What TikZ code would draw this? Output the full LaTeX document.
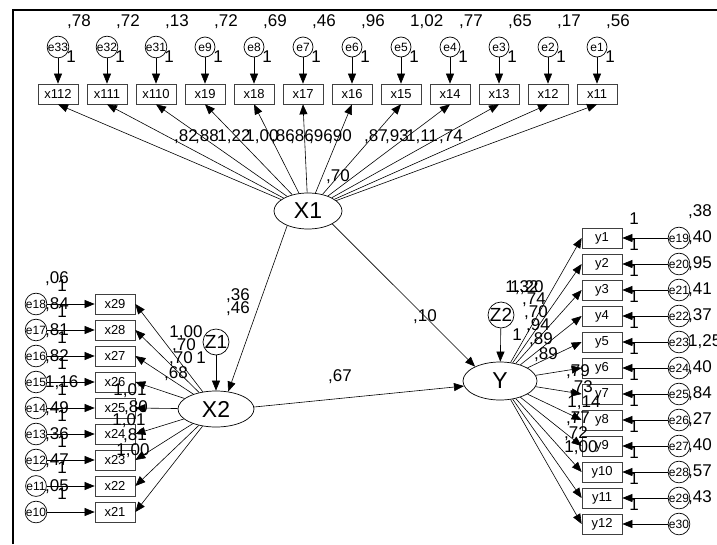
\documentclass[tikz,border=0pt]{standalone}
\usepackage{fontspec}
\setmainfont{Liberation Sans}
\usetikzlibrary{arrows.meta,shapes.geometric}
\begin{document}
\begin{tikzpicture}[x=1pt,y=-1pt,
  obs/.style={draw=black!75, line width=0.7pt, minimum width=40pt, minimum height=20pt, inner sep=0pt, font=\fontsize{13}{13}\selectfont},
  err/.style={draw, circle, line width=0.7pt, minimum size=20pt, inner sep=0pt, font=\fontsize{12}{12}\selectfont},
  lat/.style={draw, ellipse, line width=0.7pt, inner sep=0pt, font=\fontsize{23}{23}\selectfont},
  dist/.style={draw, circle, line width=0.7pt, minimum size=26pt, inner sep=0pt, font=\fontsize{19}{19}\selectfont},
  lab/.style={inner sep=0pt, font=\fontsize{17}{17}\selectfont},
  arr/.style={-{Triangle[length=10pt,width=8pt]}, line width=0.6pt},
]
\useasboundingbox (0,0) rectangle (717,544);
\draw[line width=1.5pt] (13,544) -- (13,10) -- (717,10);

% latent variables
\node[lat, minimum width=68pt, minimum height=36pt] (X1) at (308,211) {X1};
\node[lat, minimum width=76pt, minimum height=36pt] (X2) at (216,409) {X2};
\node[lat, minimum width=74pt, minimum height=38pt] (Y) at (500,381) {Y};
\node[dist] (Z1) at (216,342) {Z1};
\node[dist] (Z2) at (501,315) {Z2};

% structural paths
\draw[arr] (X1.215) -- (X2.55);
\draw[arr] (X1.-28) -- (Y.150);
\draw[arr] (X2.3) -- (Y.188);
\draw[arr] (Z1) -- (X2);
\draw[arr] (Z2) -- (Y);

% top row (X1 indicators)
\foreach \bx/\ee/\vv [count=\i from 0] in {x112/e33/{,78},x111/e32/{,72},x110/e31/{,13},x19/e9/{,72},x18/e8/{,69},x17/e7/{,46},x16/e6/{,96},x15/e5/{1,02},x14/e4/{,77},x13/e3/{,65},x12/e2/{,17},x11/e1/{,56}}{
  \pgfmathsetmacro{\cx}{58+49*\i}
  \node[obs] (\bx) at (\cx,94) {\bx};
  \node[err] (\ee) at (\cx,47) {\ee};
  \node[lab,anchor=west] at (\cx+9,22) {\vv};
  \node[lab] at (\cx+13,57) {1};
  \draw[arr] (\ee) -- (\bx);
  \draw[arr] (X1) -- (\bx.south);
}

% left column (X2 indicators)
\foreach \bx/\ee/\vv [count=\i from 0] in {x29/e18/{,06},x28/e17/{,84},x27/e16/{,81},x26/e15/{,82},x25/e14/{1,16},x24/e13/{,49},x23/e12/{,36},x22/e11/{,47},x21/e10/{,05}}{
  \pgfmathsetmacro{\cy}{304+26*\i}
  \node[obs] (\bx) at (115,\cy) {\bx};
  \node[err] (\ee) at (36,\cy) {\ee};
  \node[lab,anchor=west] at (45,\cy-25) {\vv};
  \node[lab] at (62,\cy-18) {1};
  \draw[arr] (\ee) -- (\bx);
  \draw[arr] (X2) -- (\bx.east);
}

% right column (Y indicators)
\foreach \bx/\ee/\vv [count=\i from 0] in {y1/e19/{,38},y2/e20/{,40},y3/e21/{,95},y4/e22/{,41},y5/e23/{,37},y6/e24/{1,25},y7/e25/{,40},y8/e26/{,84},y9/e27/{,27},y10/e28/{,40},y11/e29/{,57},y12/e30/{,43}}{
  \pgfmathsetmacro{\cy}{238+26*\i}
  \node[obs] (\bx) at (602,\cy) {\bx};
  \node[err] (\ee) at (679,\cy) {\ee};
  \node[lab,anchor=west] at (688,\cy-26) {\vv};
  \node[lab] at (634,\cy-19) {1};
  \draw[arr] (\ee) -- (\bx);
  \draw[arr] (Y) -- (\bx.west);
}

% X1 loadings
\foreach \t/\px in {{,82}/186,{,88}/207,{1,22}/234,{1,00}/262,{,86}/283,{,86}/302,{,96}/321,{,90}/340,{,87}/376,{,93}/397,{1,11}/422,{,74}/451}{
  \node[lab] at (\px,137) {\t};
}
\node[lab] at (338,177) {,70};

% X2 loadings and Z1
\node[lab] at (186,333) {1,00};
\node[lab] at (184,346) {,70};
\node[lab] at (181,359) {,70};
\node[lab] at (176,374) {,68};
\node[lab] at (130,391) {1,01};
\node[lab] at (136,408) {,80};
\node[lab] at (129,421) {1,01};
\node[lab] at (135,436) {,81};
\node[lab] at (133,451) {1,00};
\node[lab] at (201,358) {1};
\node[lab] at (238,296) {,36};
\node[lab] at (238,309) {,46};

% structural labels
\node[lab] at (425,317) {,10};
\node[lab] at (340,377) {,67};

% Y loadings and Z2
\node[lab] at (522,288) {1,32};
\node[lab] at (527,288) {1,20};
\node[lab] at (534,300) {,74};
\node[lab] at (536,313) {,70};
\node[lab] at (538,326) {,94};
\node[lab] at (517,335) {1};
\node[lab] at (541,340) {,89};
\node[lab] at (546,355) {,89};
\node[lab] at (578,372) {,79};
\node[lab] at (581,388) {,73};
\node[lab] at (584,403) {1,14};
\node[lab] at (578,419) {,77};
\node[lab] at (576,434) {,72};
\node[lab] at (581,448) {1,00};
\end{tikzpicture}
\end{document}
